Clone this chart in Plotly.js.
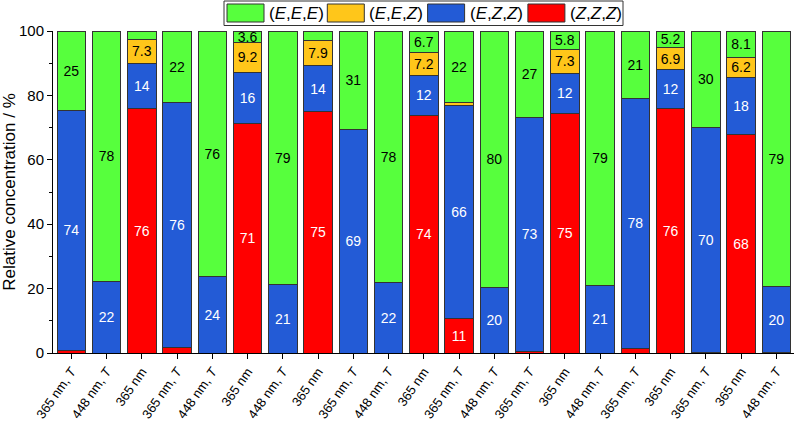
<!DOCTYPE html>
<html>
<head>
<meta charset="utf-8">
<script src="https://cdn.plot.ly/plotly-3.0.1.min.js"></script>
<style>html,body{margin:0;padding:0;background:#fff;}#chart{width:796px;height:424px;}</style>
</head>
<body>
<div id="chart"></div>
<script>
// Category (tick) labels, one per bar
const tickLabels = [
  '365 nm, <i>T</i>', '448 nm, <i>T</i>', '365 nm', '365 nm, <i>T</i>', '448 nm, <i>T</i>',
  '365 nm', '448 nm, <i>T</i>', '365 nm', '365 nm, <i>T</i>', '448 nm, <i>T</i>',
  '365 nm', '365 nm, <i>T</i>', '448 nm, <i>T</i>', '365 nm, <i>T</i>', '365 nm',
  '448 nm, <i>T</i>', '365 nm, <i>T</i>', '365 nm', '365 nm, <i>T</i>', '365 nm',
  '448 nm, <i>T</i>'
];
const seriesNames = ['(<i>Z</i>,<i>Z</i>,<i>Z</i>)', '(<i>E</i>,<i>Z</i>,<i>Z</i>)', '(<i>E</i>,<i>E</i>,<i>Z</i>)', '(<i>E</i>,<i>E</i>,<i>E</i>)'];
// Relative concentrations (%)
const zzz = [0.9, 0, 76, 1.8, 0, 71.2, 0, 75, 0, 0, 73.9, 10.6, 0, 0.4, 74.5, 0, 1.5, 75.8, 0.3, 67.9, 0.2];
const ezz = [74.3, 22.2, 14, 75.9, 23.9, 16, 21.3, 14.2, 69.3, 21.8, 12.2, 66.4, 20.2, 72.9, 12.4, 21, 77.6, 12.1, 69.8, 17.8, 20.4];
const eez = [0, 0, 7.3, 0, 0, 9.2, 0, 7.9, 0, 0, 7.2, 0.9, 0, 0, 7.3, 0, 0, 6.9, 0, 6.2, 0];
const eee = [24.8, 77.8, 2.7, 22.3, 76.1, 3.6, 78.7, 2.9, 30.7, 78.2, 6.7, 22.1, 79.8, 26.7, 5.8, 79, 20.9, 5.2, 29.9, 8.1, 79.4];

const colors = ['#FF0000', '#235BD6', '#FFC61A', '#57FF3D'];
const textColors = ['#ffffff', '#ffffff', '#000000', '#000000'];
const FONT = 'Arial, "Liberation Sans", sans-serif';

const W = 796, H = 424;
const M = {l: 53, r: 2, t: 31, b: 71};
const plotW = W - M.l - M.r, plotH = H - M.t - M.b;
// pixel -> paper helpers (for the legend drawn in paper space)
const px = x => (x - M.l) / plotW;
const py = y => (H - M.b - y) / plotH;

const xs = tickLabels.map((_, i) => i);
const fmt = v => v >= 3.5 ? (v >= 10 ? String(Math.round(v)) : v.toFixed(1)) : '';

const data = [zzz, ezz, eez, eee].map((vals, k) => ({
  type: 'bar',
  name: seriesNames[k],
  x: xs,
  y: vals.map(v => v === 0 ? null : v),
  text: vals.map(fmt),
  textposition: 'inside',
  insidetextanchor: 'middle',
  constraintext: 'none',
  textangle: 0,
  cliponaxis: false,
  showlegend: false,
  textfont: {family: FONT, size: 14, color: textColors[k]},
  marker: {color: colors[k], line: {color: '#333333', width: 1}},
  hoverinfo: 'y+name'
}));

// Legend (boxed, one row) drawn as shapes + annotations, order: EEE, EEZ, EZZ, ZZZ
const legendOrder = [3, 2, 1, 0];
const shapes = [{
  type: 'rect', xref: 'paper', yref: 'paper',
  x0: px(224), x1: px(623), y0: py(25.5), y1: py(1),
  line: {color: '#333333', width: 1}, fillcolor: '#ffffff'
}];
const annotations = [];
legendOrder.forEach((k, i) => {
  const sx = 227 + i * 100.3;
  shapes.push({
    type: 'rect', xref: 'paper', yref: 'paper',
    x0: px(sx), x1: px(sx + 37), y0: py(22), y1: py(4),
    line: {color: '#333333', width: 1}, fillcolor: colors[k]
  });
  annotations.push({
    xref: 'paper', yref: 'paper', x: px(sx + 40), y: py(13.5),
    xanchor: 'left', yanchor: 'middle', showarrow: false,
    text: seriesNames[k], font: {family: FONT, size: 17, color: '#000'}
  });
});

const layout = {
  width: W, height: H,
  margin: M,
  paper_bgcolor: '#ffffff', plot_bgcolor: '#ffffff',
  barmode: 'stack',
  bargap: 0.19,
  font: {family: FONT, size: 14, color: '#000'},
  showlegend: false,
  shapes: shapes,
  annotations: annotations,
  xaxis: {
    range: [-0.52, 20.5],
    tickmode: 'array', tickvals: xs, ticktext: tickLabels,
    tickangle: -55,
    ticks: 'outside', ticklen: 5, tickcolor: '#000', tickwidth: 1,
    showline: true, linecolor: '#000', linewidth: 1,
    showgrid: false, zeroline: false,
    tickfont: {family: FONT, size: 13, color: '#000'}
  },
  yaxis: {
    // tiny headroom so stacks summing to 100 (with float rounding) are not hidden
    range: [0, 100.01],
    tickvals: [0, 20, 40, 60, 80, 100],
    ticks: 'outside', ticklen: 5, tickcolor: '#000', tickwidth: 1,
    minor: {tickvals: [10, 30, 50, 70, 90], ticks: 'outside', ticklen: 3, tickcolor: '#000'},
    showline: true, linecolor: '#000', linewidth: 1,
    showgrid: false, zeroline: false,
    tickfont: {family: FONT, size: 15, color: '#000'},
    title: {text: 'Relative concentration / %', font: {family: FONT, size: 17, color: '#000'}, standoff: 6}
  }
};

Plotly.newPlot('chart', data, layout, {displayModeBar: false, staticPlot: true});
</script>
</body>
</html>
